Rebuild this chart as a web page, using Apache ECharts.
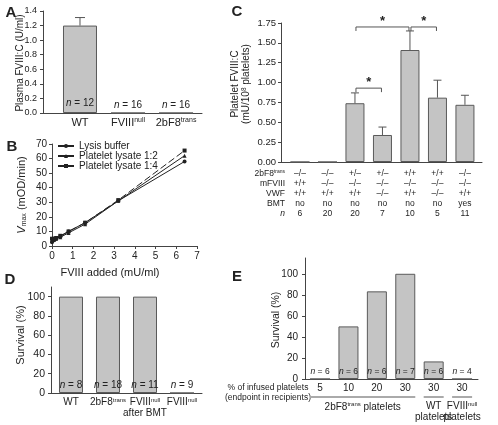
<!DOCTYPE html>
<html><head><meta charset="utf-8">
<script src="https://cdn.jsdelivr.net/npm/echarts@6/dist/echarts.min.js"></script>
<style>html,body{margin:0;padding:0;background:#fff}#c{width:498px;height:425px}</style>
</head><body><div id="c"></div>
<script>
// ---------- Panel A ----------
const aCats = [['WT', ''], ['FVIII', 'null'], ['2bF8', 'trans']];
const aVals = [1.2, 0, 0];
const aErr = [1.31, null, null];
const aN = [12, 16, 16];
const aTicks = [0, 0.2, 0.4, 0.6, 0.8, 1.0, 1.2, 1.4];
// ---------- Panel B ----------
const bX = [0, 0.1, 0.2, 0.4, 0.8, 1.6, 3.2, 6.4];
const bLysis = [2.5, 4, 5, 6.5, 10, 16, 31, 58];
const bLys12 = [4, 4.5, 5, 6, 9, 15, 31, 62];
const bLys14 = [5, 5, 5.5, 7, 10, 16, 31.5, 65.5];
const bNames = ['Lysis buffer', 'Platelet lysate 1:2', 'Platelet lysate 1:4'];
// ---------- Panel C ----------
const cVals = [0, 0, 0.74, 0.34, 1.41, 0.81, 0.72];
const cErr = [null, null, 0.87, 0.44, 1.65, 1.03, 0.84];
const c2bF8 = ['–/–', '–/–', '+/–', '+/–', '+/+', '+/+', '–/–'];
const cMFVIII = ['+/+', '–/–', '–/–', '–/–', '–/–', '–/–', '–/–'];
const cVWF = ['+/+', '+/+', '+/+', '–/–', '+/+', '–/–', '+/+'];
const cBMT = ['no', 'no', 'no', 'no', 'no', 'no', 'yes'];
const cN = [6, 20, 20, 7, 10, 5, 11];
const cSig = [[3, 4, 0.93], [3, 5, 1.70], [5, 6, 1.70]];
// ---------- Panel D ----------
const dCats = [['WT', '', ''], ['2bF8', 'trans', ''], ['FVIII', 'null', 'after BMT'], ['FVIII', 'null', '']];
const dVals = [100, 100, 100, 0];
const dN = [8, 18, 11, 9];
const survTicks = [0, 20, 40, 60, 80, 100];
// ---------- Panel E ----------
const ePct = ['5', '10', '20', '30', '30', '30'];
const eVals = [0, 50, 83.3, 100, 16.7, 0];
const eN = [6, 6, 6, 7, 6, 4];
const eGroups = [[1, 4, '2bF8', 'trans', ' platelets'], [5, 5, 'WT', '', 'platelets'], [6, 6, 'FVIII', 'null', 'platelets']];

const F = '"Liberation Sans", Arial, Helvetica, sans-serif';
const TXT = '#222';
const AXC = '#444';
const BARSTYLE = { color: '#c4c4c4', borderColor: '#5a5a5a', borderWidth: 1 };
function rich(fs) {
  return {
    s: { fontSize: Math.round(fs * 0.62), verticalAlign: 'top', fontFamily: F, color: TXT, fill: TXT, lineHeight: fs + 1 },
    i: { fontStyle: 'italic', fontFamily: F, color: TXT, fill: TXT, fontSize: fs, lineHeight: fs + 1 },
    n: { fontFamily: F, color: TXT, fill: TXT, fontSize: fs, lineHeight: fs + 1 },
    sub: { fontSize: 7, verticalAlign: 'bottom', fontFamily: F, fill: TXT, color: TXT, lineHeight: fs + 1 },
    sup: { fontSize: 6.5, verticalAlign: 'top', fontFamily: F, fill: TXT, color: TXT, lineHeight: fs + 1 }
  };
}
function supTxt(base, s) { return '{n|' + base + '}' + (s ? '{s|' + s + '}' : ''); }
function axisLine() { return { show: true, lineStyle: { color: AXC, width: 1 } }; }
function nLabel(arr, fs) {
  return { show: true, fontSize: fs, fontFamily: F, color: TXT, rich: rich(fs),
    formatter: p => '{i|n}{n| = ' + arr[p.dataIndex] + '}' };
}
function barData(vals, dist) {
  return vals.map((v, i) => ({ value: [i + 1, v], label: { position: v > 0 ? 'insideBottom' : 'top', distance: v > 0 ? dist : 2 } }));
}
function errSeries(xi, vals, errs, cap) {
  return {
    type: 'custom', xAxisIndex: xi, yAxisIndex: xi, z: 5, silent: true,
    data: vals.map((v, i) => [i + 1, v, errs[i]]).filter(d => d[2] != null),
    encode: { x: 0, y: [1, 2] },
    renderItem: (params, api) => {
      const p0 = api.coord([api.value(0), api.value(1)]);
      const p1 = api.coord([api.value(0), api.value(2)]);
      const st = { stroke: '#555', lineWidth: 1 };
      return { type: 'group', children: [
        { type: 'line', shape: { x1: p0[0], y1: p0[1], x2: p1[0], y2: p1[1] }, style: st },
        { type: 'line', shape: { x1: p1[0] - cap, y1: p1[1], x2: p1[0] + cap, y2: p1[1] }, style: st }
      ] };
    }
  };
}
function yAxisDef(gi, min, max, ticks, fmt, fs, margin) {
  return {
    gridIndex: gi, type: 'value', min: min, max: max,
    axisLine: axisLine(), splitLine: { show: false },
    axisTick: { show: true, length: 3, inside: false, customValues: ticks, lineStyle: { color: AXC } },
    axisLabel: { customValues: ticks, formatter: fmt, fontSize: fs, fontFamily: F, color: TXT, margin: margin }
  };
}
function xCatAxis(gi, min, max, n, fmt, fs, margin, lh) {
  const vals = []; for (let i = 1; i <= n; i++) vals.push(i);
  return {
    gridIndex: gi, type: 'value', min: min, max: max,
    axisLine: axisLine(), splitLine: { show: false }, axisTick: { show: false },
    axisLabel: { customValues: vals, formatter: fmt, fontSize: fs, fontFamily: F, color: TXT, margin: margin, lineHeight: lh, rich: rich(fs) }
  };
}

const chart = echarts.init(document.getElementById('c'));
const option = {
  animation: false,
  backgroundColor: '#fff',
  textStyle: { fontFamily: F },
  grid: [
    { left: 43, top: 11, width: 159, height: 102 },
    { left: 52, top: 144, width: 145, height: 102 },
    { left: 281, top: 23, width: 201, height: 139 },
    { left: 51, top: 287, width: 151, height: 106 },
    { left: 305, top: 258, width: 173, height: 121 }
  ],
  xAxis: [
    xCatAxis(0, 0.23, 3.54, 3, v => { const c = aCats[Math.round(v) - 1]; return supTxt(c[0], c[1]); }, 11, 4, 12),
    { gridIndex: 1, type: 'value', min: 0, max: 7, interval: 1, axisLine: axisLine(), splitLine: { show: false },
      axisTick: { show: true, length: 3, lineStyle: { color: AXC } },
      axisLabel: { fontSize: 10, fontFamily: F, color: TXT, margin: 5 } },
    xCatAxis(2, 0.31, 7.62, 7, v => { const i = Math.round(v) - 1; return [c2bF8[i], cMFVIII[i], cVWF[i], cBMT[i], cN[i]].join('\n'); }, 8.5, 7, 10),
    xCatAxis(3, 0.46, 4.54, 4, v => { const c = dCats[Math.round(v) - 1]; return supTxt(c[0], c[1]) + (c[2] ? '\n{n|' + c[2] + '}' : ''); }, 10, 4, 11),
    xCatAxis(4, 0.47, 6.56, 6, v => '{n|' + ePct[Math.round(v) - 1] + '}', 10, 4, 11)
  ],
  yAxis: [
    yAxisDef(0, 0, 1.4, aTicks, v => v.toFixed(1), 9, 6),
    { gridIndex: 1, type: 'value', min: 0, max: 70, interval: 10, axisLine: axisLine(), splitLine: { show: false },
      axisTick: { show: true, length: 3, lineStyle: { color: AXC } },
      axisLabel: { fontSize: 10, fontFamily: F, color: TXT, margin: 5 } },
    yAxisDef(2, 0, 1.75, [0, 0.25, 0.5, 0.75, 1, 1.25, 1.5, 1.75], v => v.toFixed(2), 9.5, 5),
    yAxisDef(3, 0, 110, survTicks, v => String(v), 10.5, 6),
    yAxisDef(4, 0, 115, survTicks, v => String(v), 10, 7)
  ],
  legend: {
    data: bNames, orient: 'vertical', left: 57, top: 141, itemWidth: 16, itemHeight: 5, itemGap: 0, padding: 0,
    textStyle: { fontSize: 10, fontFamily: F, color: TXT, lineHeight: 10 }
  },
  series: [
    { type: 'bar', xAxisIndex: 0, yAxisIndex: 0, barWidth: 34, itemStyle: BARSTYLE, data: barData(aVals, 4), label: nLabel(aN, 10) },
    errSeries(0, aVals, aErr, 5),
    { type: 'line', name: bNames[0], xAxisIndex: 1, yAxisIndex: 1, data: bX.map((x, i) => [x, bLysis[i]]),
      symbol: 'circle', symbolSize: 4, lineStyle: { color: '#222', width: 1 }, itemStyle: { color: '#222' } },
    { type: 'line', name: bNames[1], xAxisIndex: 1, yAxisIndex: 1, data: bX.map((x, i) => [x, bLys12[i]]),
      symbol: 'triangle', symbolSize: 4, lineStyle: { color: '#222', width: 1 }, itemStyle: { color: '#222' } },
    { type: 'line', name: bNames[2], xAxisIndex: 1, yAxisIndex: 1, data: bX.map((x, i) => [x, bLys14[i]]),
      symbol: 'rect', symbolSize: 4, lineStyle: { color: '#222', width: 1, type: [7, 3] }, itemStyle: { color: '#222' } },
    { type: 'bar', xAxisIndex: 2, yAxisIndex: 2, barWidth: 19, itemStyle: BARSTYLE, data: cVals.map((v, i) => [i + 1, v]) },
    errSeries(2, cVals, cErr, 4),
    { type: 'custom', xAxisIndex: 2, yAxisIndex: 2, z: 6, silent: true, data: cSig, encode: { x: [0, 1], y: 2 },
      renderItem: (params, api) => {
        const a = api.coord([api.value(0), api.value(2)]);
        const b = api.coord([api.value(1), api.value(2)]);
        const x1 = a[0] + 1, x2 = b[0] - 1, y = a[1];
        return { type: 'group', children: [
          { type: 'polyline', shape: { points: [[x1, y + 4], [x1, y], [x2, y], [x2, y + 4]] }, style: { stroke: '#555', fill: null, lineWidth: 1 } },
          { type: 'text', x: (x1 + x2) / 2, y: y + 1, style: { text: '*', textAlign: 'center', textVerticalAlign: 'bottom', font: 'bold 13px ' + F, fill: '#222' } }
        ] };
      } },
    { type: 'bar', xAxisIndex: 3, yAxisIndex: 3, barWidth: 24, itemStyle: BARSTYLE, data: barData(dVals, 2), label: nLabel(dN, 10) },
    { type: 'bar', xAxisIndex: 4, yAxisIndex: 4, barWidth: 20, itemStyle: BARSTYLE, data: barData(eVals, 3), label: nLabel(eN, 8.5) }
  ]
};
chart.setOption(option);

// ---------- text annotations ----------
function t(x, y, text, fs, opts) {
  opts = opts || {};
  return { type: 'text', x: x, y: y, rotation: opts.rot || 0, silent: true,
    style: { text: text, font: (opts.bold ? 'bold ' : '') + fs + 'px ' + F, fill: TXT,
      textAlign: opts.align || 'center', textVerticalAlign: 'middle', rich: rich(fs), lineHeight: opts.lh || fs + 1 } };
}
const R = Math.PI / 2;
const g = [
  t(11, 12.5, 'A', 15, { bold: true }),
  t(12, 147, 'B', 15, { bold: true }),
  t(237, 12, 'C', 15, { bold: true }),
  t(10, 280, 'D', 15, { bold: true }),
  t(237, 277, 'E', 15, { bold: true }),
  t(20, 63, 'Plasma FVIII:C (U/ml)', 10, { rot: R }),
  t(22, 195, '{i|V}{sub|max}{n| (mOD/min)}', 11, { rot: R }),
  t(110, 273, 'FVIII added (mU/ml)', 11),
  t(241, 84, '{n|Platelet FVIII:C}\n{n|(mU/10}{sup|8}{n| platelets)}', 10, { rot: R, lh: 11 }),
  t(21, 335, 'Survival (%)', 11, { rot: R }),
  t(276, 320, 'Survival (%)', 10.5, { rot: R }),
  t(268, 388, '% of infused platelets', 8.5),
  t(268, 398, '(endpoint in recipients)', 8.5)
];
// C table row headers
const rowHeads = [supTxt('2bF8', 'trans'), '{n|mFVIII}', '{n|VWF}', '{n|BMT}', '{i|n}'];
const cY0 = chart.convertToPixel({ yAxisIndex: 2 }, 0);
rowHeads.forEach((h, k) => {
  g.push(t(285, cY0 + 12 + k * 10, h, 8.5, { align: 'right' }));
});
// E group lines and labels
const eY0 = chart.convertToPixel({ yAxisIndex: 4 }, 0);
eGroups.forEach(gr => {
  const xa = chart.convertToPixel({ xAxisIndex: 4 }, gr[0]) - 10;
  const xb = chart.convertToPixel({ xAxisIndex: 4 }, gr[1]) + 10;
  g.push({ type: 'line', silent: true, shape: { x1: xa, y1: eY0 + 18, x2: xb, y2: eY0 + 18 }, style: { stroke: '#aaa', lineWidth: 2 } });
  const twoLine = gr[4].charAt(0) !== ' ';
  const lab = supTxt(gr[2], gr[3]) + (twoLine ? '\n{n|' + gr[4] + '}' : '{n|' + gr[4] + '}');
  g.push(t((xa + xb) / 2, eY0 + 28 + (twoLine ? 5 : 0), lab, 10, { lh: 10 }));
});
chart.setOption({ graphic: g });
</script>
</body></html>
